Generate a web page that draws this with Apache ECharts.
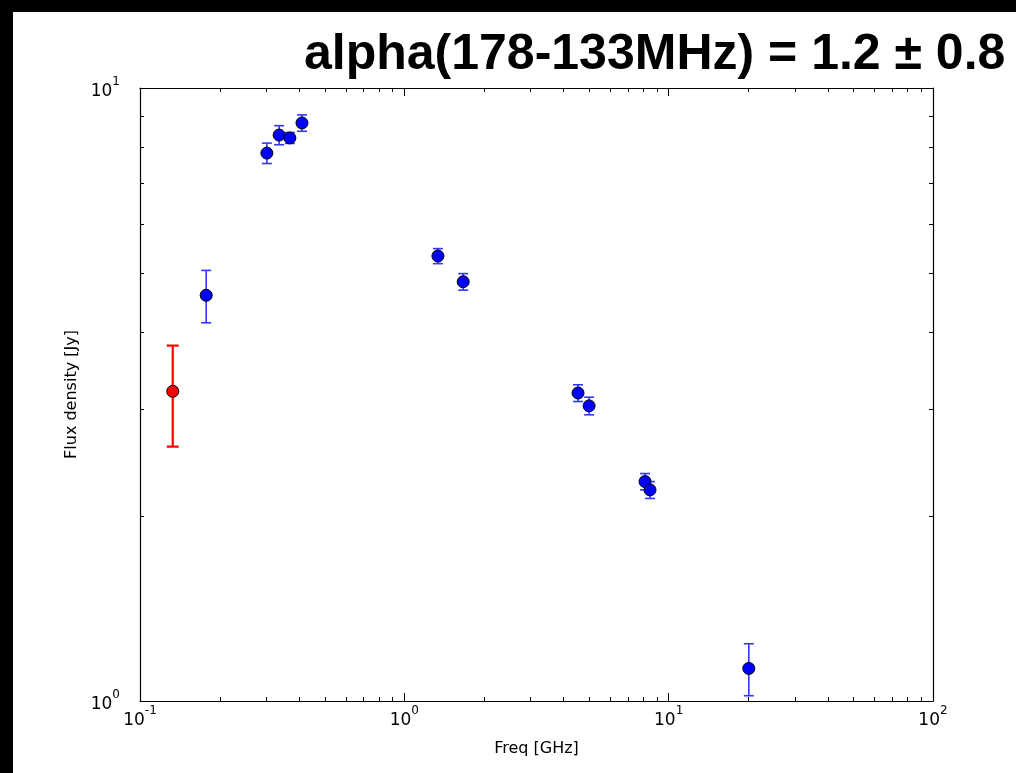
<!DOCTYPE html>
<html><head><meta charset="utf-8">
<script src="https://cdn.jsdelivr.net/npm/echarts@6/dist/echarts.min.js"></script>
<style>html,body{margin:0;padding:0;background:#000;width:1016px;height:773px;overflow:hidden}
#c{position:absolute;left:13px;top:12px;width:1003px;height:761px;background:#fff}</style>
</head><body><div id="c"></div>
<script>
const titleText = 'alpha(178-133MHz) = 1.2 \u00b1 0.8';
const xName = 'Freq [GHz]';
const yName = 'Flux density [Jy]';
const blueFreq = [0.178, 0.302, 0.336, 0.369, 0.410, 1.34, 1.67, 4.54, 5.0, 8.14, 8.5, 20.1];
const blueFlux = [4.59, 7.83, 8.38, 8.29, 8.77, 5.32, 4.83, 3.18, 3.03, 2.28, 2.21, 1.13];
const blueErr  = [0.45, 0.30, 0.30, 0.17, 0.27, 0.15, 0.15, 0.10, 0.10, 0.07, 0.07, 0.11];
const redFreq = [0.133];
const redFlux = [3.2];
const redErr  = [0.6];
const xMinorTicks = [0.2,0.3,0.4,0.5,0.6,0.7,0.8,0.9, 2,3,4,5,6,7,8,9, 20,30,40,50,60,70,80,90];
const yMinorTicks = [2,3,4,5,6,7,8,9];

const chart = echarts.init(document.getElementById('c'), null, {renderer:'canvas'});
const labelFont = 'DejaVu Sans';
function powLabel(v){
  const e = Math.round(Math.log10(v));
  return '{b|10}{s|' + e + '}';
}
const rich = {
  b:{fontFamily:labelFont, fontSize:17, color:'#000', verticalAlign:'bottom', lineHeight:24},
  s:{fontFamily:labelFont, fontSize:12, color:'#000', verticalAlign:'top', lineHeight:24}
};
function baseAxis(pos, showLabel, margin){
  return {
    type:'log', logBase:10, position:pos,
    axisLine:{show:true, onZero:false, lineStyle:{color:'#000', width:1.2}},
    axisTick:{show:true, inside:true, length:8, lineStyle:{color:'#000', width:1}},
    splitLine:{show:false},
    axisLabel:{show:showLabel, formatter:powLabel, rich:rich, margin:margin},
  };
}
const xBottom = Object.assign(baseAxis('bottom', true, 4), {min:0.1, max:100, name:xName, nameLocation:'middle', nameGap:40,
  nameTextStyle:{fontFamily:labelFont, fontSize:16, color:'#000'}});
const xTop = Object.assign(baseAxis('top', false, 4), {min:0.1, max:100});
const yLeft = Object.assign(baseAxis('left', true, 20), {min:1, max:10, name:yName, nameLocation:'middle', nameGap:58,
  nameTextStyle:{fontFamily:labelFont, fontSize:16, color:'#000'}});
const yRight = Object.assign(baseAxis('right', false, 4), {min:1, max:10});

function crisp(v){ return Math.round(v) + 0.5; }
function minorX(params, api){
  const cs = params.coordSys;
  const x = crisp(api.coord([api.value(0), 1])[0]);
  const yb = cs.y + cs.height, yt = cs.y;
  return {type:'group', children:[
    {type:'line', shape:{x1:x, y1:yb, x2:x, y2:yb-4}, style:{stroke:'#000', lineWidth:1}},
    {type:'line', shape:{x1:x, y1:yt, x2:x, y2:yt+4}, style:{stroke:'#000', lineWidth:1}}
  ]};
}
function minorY(params, api){
  const cs = params.coordSys;
  const y = crisp(api.coord([1, api.value(1)])[1]);
  const xl = cs.x, xr = cs.x + cs.width;
  return {type:'group', children:[
    {type:'line', shape:{x1:xl, y1:y, x2:xl+4, y2:y}, style:{stroke:'#000', lineWidth:1}},
    {type:'line', shape:{x1:xr, y1:y, x2:xr-4, y2:y}, style:{stroke:'#000', lineWidth:1}}
  ]};
}
function errBar(color, width, cap){
  return function(params, api){
    const x = api.value(0), y = api.value(1), e = api.value(2);
    const t = api.coord([x, y + e]), b = api.coord([x, y - e]);
    return {type:'group', children:[
      {type:'line', shape:{x1:t[0], y1:t[1], x2:b[0], y2:b[1]}, style:{stroke:color, lineWidth:width}},
      {type:'line', shape:{x1:t[0]-cap, y1:t[1], x2:t[0]+cap, y2:t[1]}, style:{stroke:color, lineWidth:width}},
      {type:'line', shape:{x1:b[0]-cap, y1:b[1], x2:b[0]+cap, y2:b[1]}, style:{stroke:color, lineWidth:width}}
    ]};
  };
}
const blueData = blueFreq.map((f,i)=>[f, blueFlux[i], blueErr[i]]);
const redData = redFreq.map((f,i)=>[f, redFlux[i], redErr[i]]);

chart.setOption({
  animation:false,
  backgroundColor:'#fff',
  title:{text:titleText, left:286, top:13, textStyle:{fontFamily:'Liberation Sans', fontWeight:'bold', fontSize:50, color:'#000'}},
  grid:{left:127, right:83, top:76, bottom:72, containLabel:false},
  xAxis:[xBottom, xTop],
  yAxis:[yLeft, yRight],
  series:[
    {type:'custom', xAxisIndex:0, yAxisIndex:0, data:xMinorTicks.map(v=>[v,1]), renderItem:minorX, silent:true, clip:false, encode:{x:0,y:1}},
    {type:'custom', xAxisIndex:0, yAxisIndex:0, data:yMinorTicks.map(v=>[1,v]), renderItem:minorY, silent:true, clip:false, encode:{x:0,y:1}},
    {type:'custom', name:'blueErr', data:blueData, renderItem:errBar('#3535ff', 1.6, 5), encode:{x:0,y:1}, z:3},
    {type:'custom', name:'redErr', data:redData, renderItem:errBar('#ff0000', 2.2, 6), encode:{x:0,y:1}, z:3},
    {type:'scatter', name:'blue', data:blueData.map(d=>[d[0],d[1]]), symbol:'circle', symbolSize:12,
      itemStyle:{color:'#0000ff', borderColor:'#000', borderWidth:1, opacity:1}, z:5},
    {type:'scatter', name:'red', data:redData.map(d=>[d[0],d[1]]), symbol:'circle', symbolSize:12,
      itemStyle:{color:'#ff0000', borderColor:'#000', borderWidth:1, opacity:1}, z:5}
  ]
});
</script></body></html>
